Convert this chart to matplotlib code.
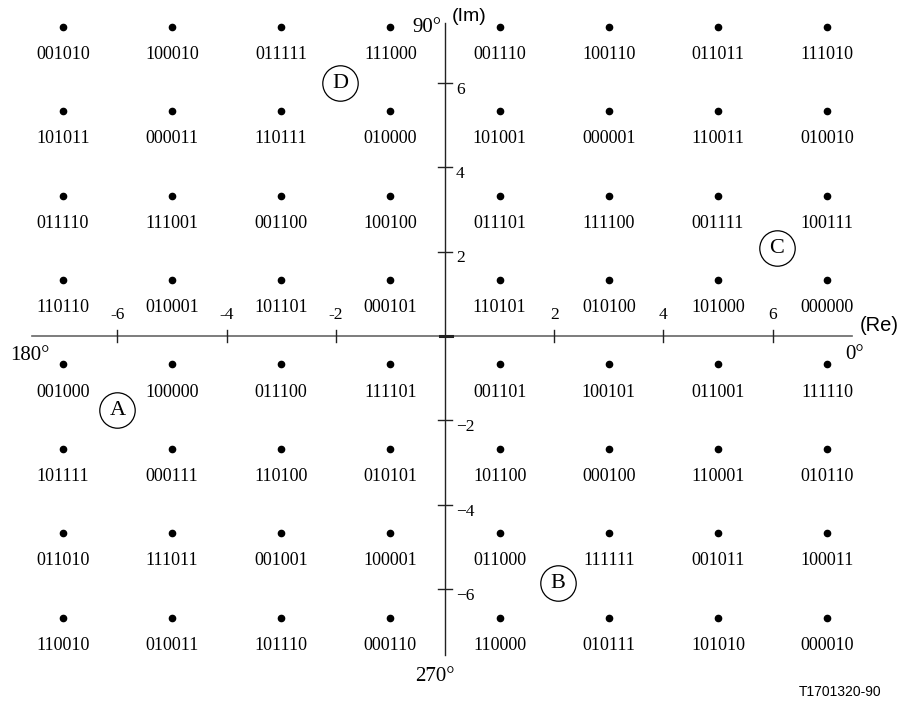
import numpy as np
import matplotlib
matplotlib.use('Agg')
import matplotlib.pyplot as plt

# constellation levels and bit labels (rows top -> bottom, columns left -> right)
levels_x = [-7, -5, -3, -1, 1, 3, 5, 7]
levels_y = [7, 5, 3, 1, -1, -3, -5, -7]
codes = [
	['001010', '100010', '011111', '111000', '001110', '100110', '011011', '111010'],
	['101011', '000011', '110111', '010000', '101001', '000001', '110011', '010010'],
	['011110', '111001', '001100', '100100', '011101', '111100', '001111', '100111'],
	['110110', '010001', '101101', '000101', '110101', '010100', '101000', '000000'],
	['001000', '100000', '011100', '111101', '001101', '100101', '011001', '111110'],
	['101111', '000111', '110100', '010101', '101100', '000100', '110001', '010110'],
	['011010', '111011', '001001', '100001', '011000', '111111', '001011', '100011'],
	['110010', '010011', '101110', '000110', '110000', '010111', '101010', '000010'],
]
xticks = [-6, -4, -2, 2, 4, 6]
xtick_labels = ['-6', '-4', '-2', '2', '4', '6']
yticks = [6, 4, 2, -2, -4, -6]
ytick_labels = ['6', '4', '2', '\u22122', '\u22124', '\u22126']
markers = ['A', 'B', 'C', 'D']
marker_x = [-6.0, 2.07, 6.08, -1.92]
marker_y = [-1.75, -5.85, 2.09, 6.0]

serif = 'Liberation Serif'
sans = 'Liberation Sans'

fig = plt.figure(figsize=(8.98, 7.04), dpi=100)
ax = fig.add_axes([0, 0, 1, 1])
ax.set_xlim(-445 / 54.6, 453 / 54.6)
ax.set_ylim(-368 / 42.2, 336 / 42.2)
ax.axis('off')

# axes
ax.plot([-7.56, 7.45], [0, 0], color='#666666', lw=1.2)
ax.plot([0, 0], [-7.56, 7.42], color='#222222', lw=1.0)
for t, lab in zip(xticks, xtick_labels):
	ax.plot([t, t], [-0.15, 0.15], color='#222222', lw=1.0)
	ax.text(t, 0.5, lab, ha='center', va='center', fontsize=12.5, family=serif)
for t, lab in zip(yticks, ytick_labels):
	ax.plot([-0.13, 0.13], [t, t], color='#222222', lw=1.0)
	ax.text(0.2, t - 0.16, lab, ha='left', va='center', fontsize=12.5, family=serif)
ax.plot([-0.1, 0.12], [0, 0], color='#222222', lw=2.2)

# points and labels
px, py = np.meshgrid(levels_x, levels_y)
ax.plot(px.ravel(), py.ravel() + 0.325, 'o', color='black', ms=4.5, ls='none')
for i, yv in enumerate(levels_y):
	for j, xv in enumerate(levels_x):
		ax.text(xv, yv - 0.33, codes[i][j], ha='center', va='center', fontsize=13, family=serif)

# circled letters
ax.plot(marker_x, marker_y, 'o', ms=25.5, mfc='white', mec='black', mew=0.9, ls='none')
for m, mx, my in zip(markers, marker_x, marker_y):
	ax.text(mx, my - 0.02, m, ha='center', va='center', fontsize=16, family=serif)

# angle and axis names
ax.text(-0.07, 7.3, '90°', ha='right', va='center', fontsize=15, family=serif)
ax.text(0.13, 7.56, '(Im)', ha='left', va='center', fontsize=14, family=sans)
ax.text(-7.97, -0.47, '180°', ha='left', va='center', fontsize=15, family=serif)
ax.text(7.33, -0.45, '0°', ha='left', va='center', fontsize=15, family=serif)
ax.text(-0.18, -8.08, '270°', ha='center', va='center', fontsize=15, family=serif)
ax.text(7.6, 0.26, '(Re)', ha='left', va='center', fontsize=14.5, family=sans)
ax.text(7.23, -8.44, 'T1701320-90', ha='center', va='center', fontsize=10, family=sans)

fig.savefig('out.png', dpi=100, facecolor='white')
